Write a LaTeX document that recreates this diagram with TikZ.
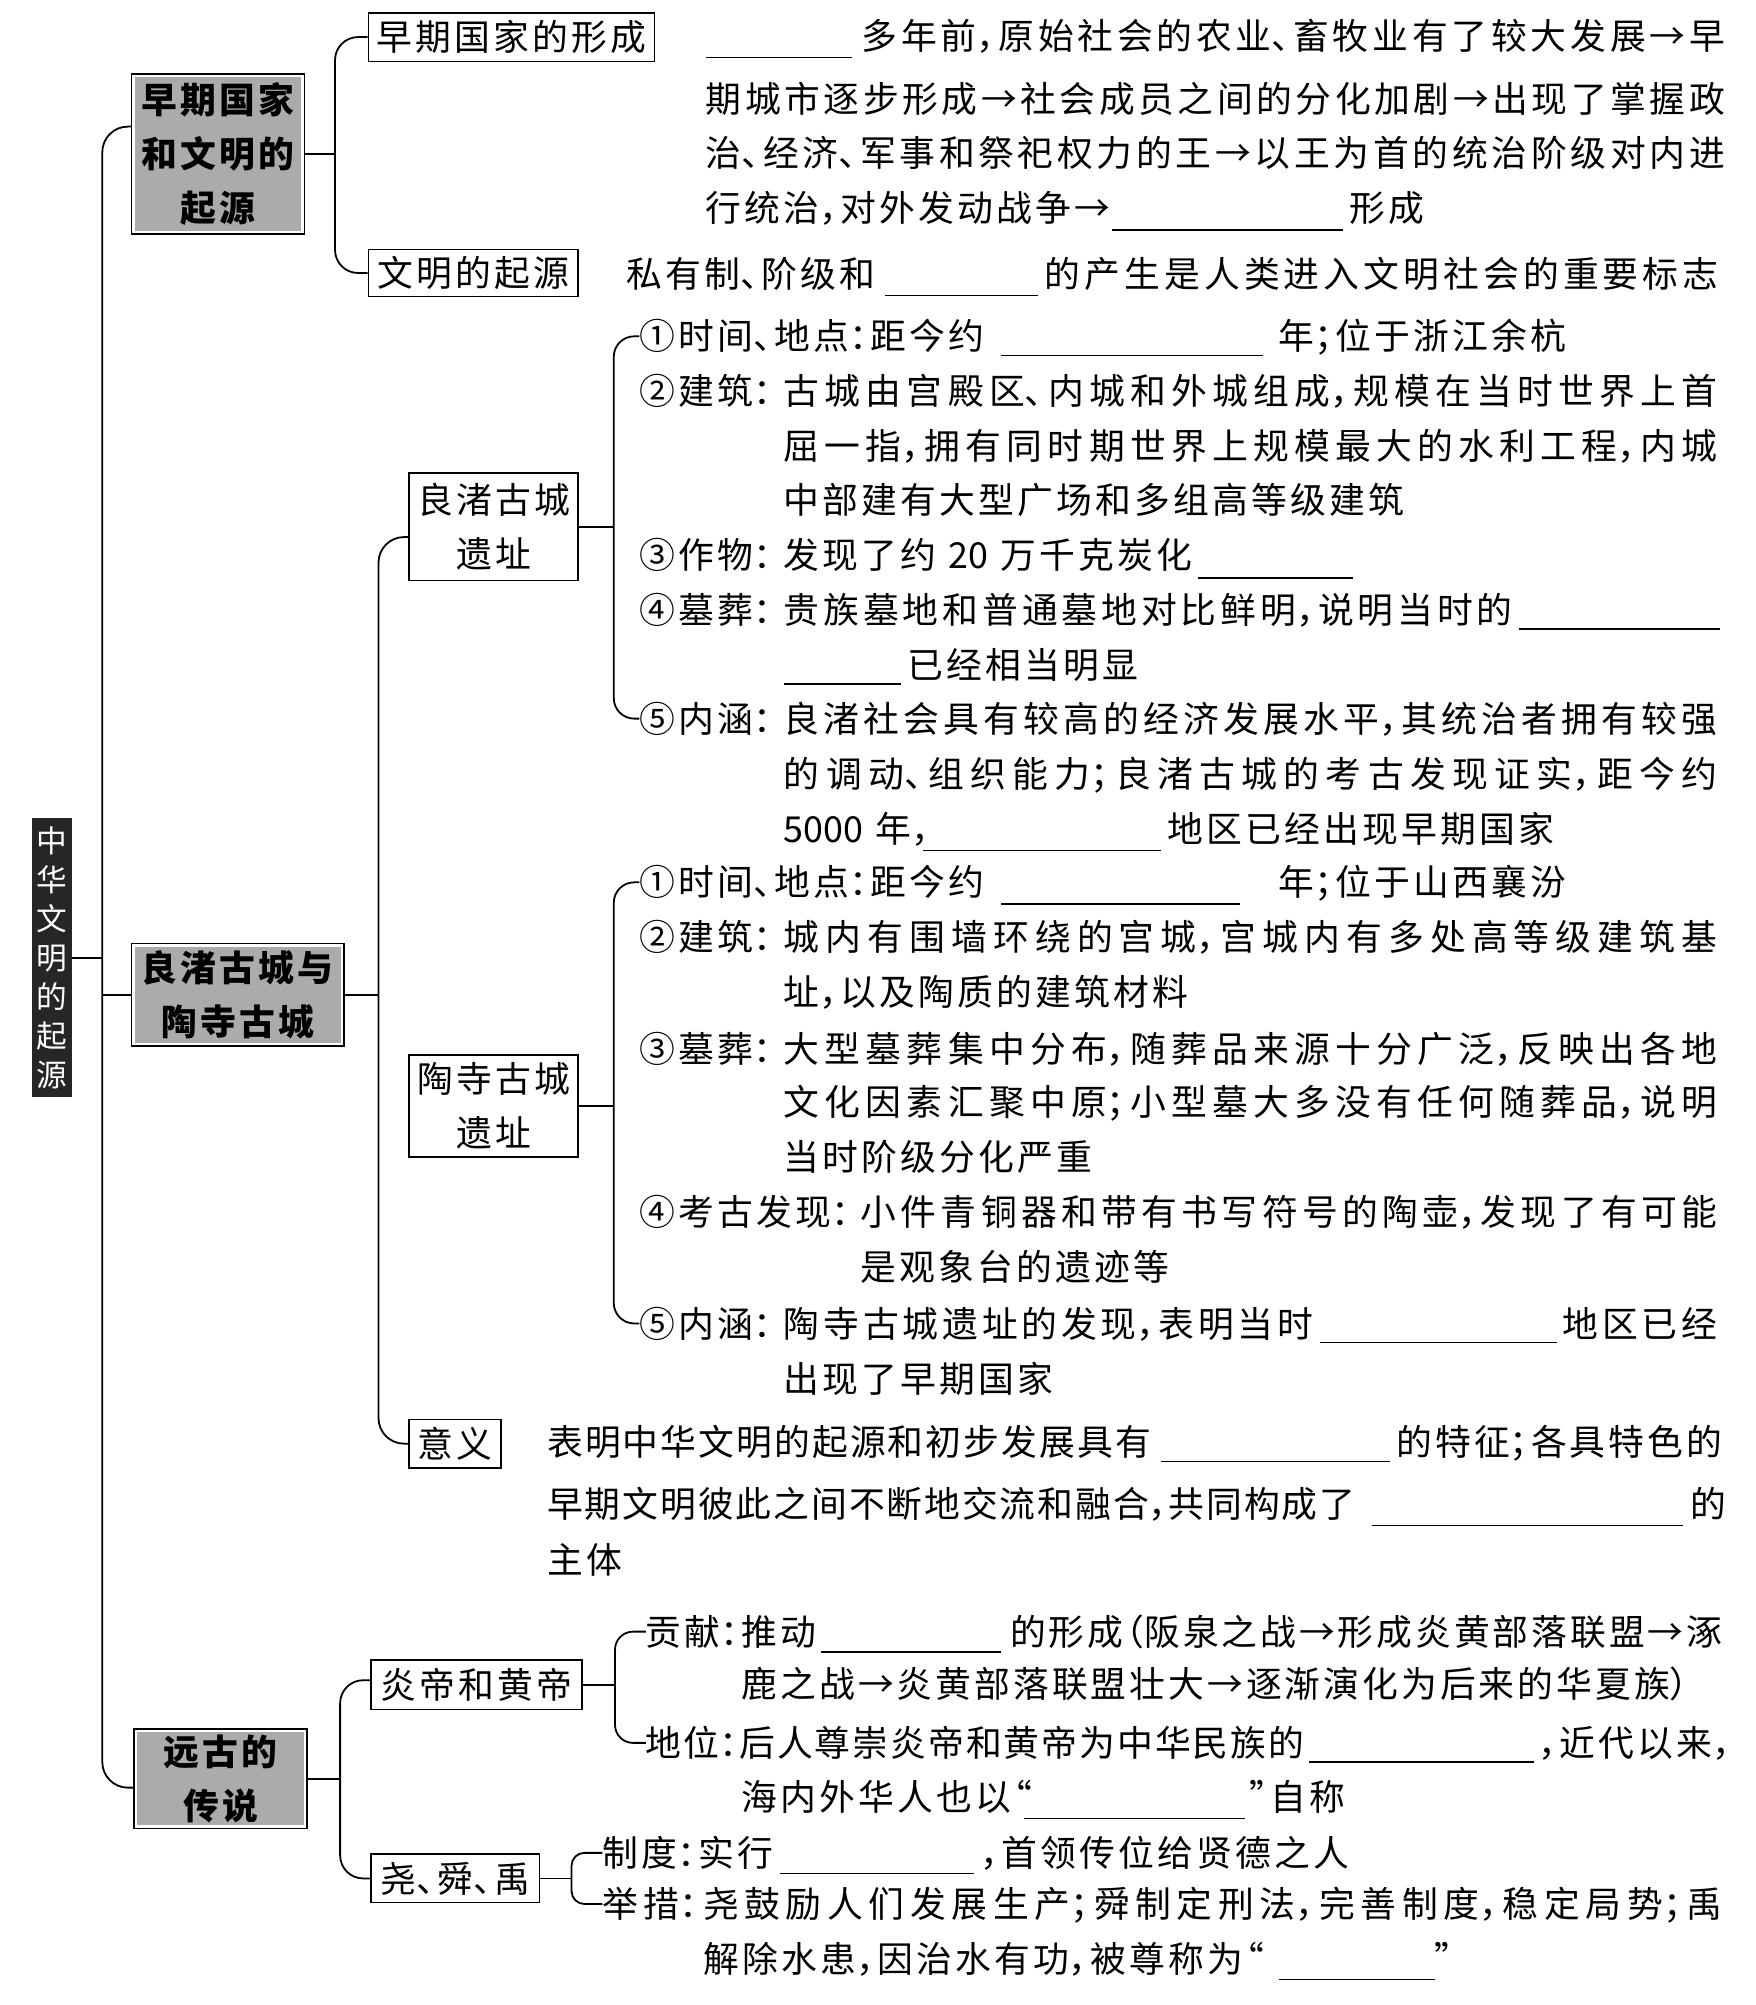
\documentclass[tikz,border=0pt]{standalone}
\usepackage{fontspec}
\newfontfamily\zh{Noto Sans CJK SC}[RawFeature={+halt}]
\XeTeXlinebreaklocale "zh"
\XeTeXlinebreakskip=2.5pt plus 20pt minus 4pt
\newcommand\bodyfont{\zh\fontsize{28pt}{34pt}\selectfont}
\newcommand\boxfont{\zh\fontsize{28pt}{42pt}\selectfont\XeTeXlinebreakskip=2.5pt\relax}
\newcommand\tline[4]{\node[rtx] (#1) at (#2,#3) {#4};}
\newcommand\jline[5]{\node[tx, text width=#4pt] (#1) at (#2,#3) {\tolerance=9999\pretolerance=-1\leftskip=0pt\rightskip=0pt\parfillskip=0pt\relax #5\par};}
\newcommand\bline[3]{\draw[blankline] (#1,#3) -- (#2,#3);}
\tikzset{
 conn/.style={line width=1.4pt},
 blankline/.style={line width=1.1pt},
 tx/.style={anchor=west, inner sep=0pt, outer sep=0pt, font=\bodyfont, text height=24.6pt, text depth=3.4pt},
 rtx/.style={tx, text width=800pt, align=left},
 plainbox/.style={draw, line width=1.2pt, inner sep=0pt, font=\boxfont, align=center},
 graybox/.style={plainbox, font=\boxfont\bfseries, path picture={\fill[black!33] ([shift={(2.5pt,-2.5pt)}]path picture bounding box.north west) rectangle ([shift={(-2.5pt,2.5pt)}]path picture bounding box.south east);}},
 rootbox/.style={fill=black!85, inner sep=0pt, text=white, font=\zh\fontsize{24pt}{30.5pt}\selectfont, align=center},
}
\begin{document}
\begin{tikzpicture}[x=1pt,y=-1pt]
\fill[white] (0,0) rectangle (1373,1568);
\useasboundingbox (0,0) rectangle (1373,1568);

% ---------- boxes ----------
\node[rootbox, minimum width=31pt, minimum height=218pt] (root) at (40.5,749) {中\\华\\文\\明\\的\\起\\源};
\node[graybox, minimum width=135pt, minimum height=125pt, text width=131pt] (b1) at (170.5,120.5) {早期国家\\和文明的\\起源};
\node[graybox, minimum width=166pt, minimum height=80pt, text width=162pt] (b2) at (186,778) {良渚古城与\\陶寺古城};
\node[graybox, minimum width=135pt, minimum height=78pt, text width=131pt] (b3) at (172.5,1391) {远古的\\传说};
\node[plainbox, minimum width=224pt, minimum height=38pt, text width=220pt] (n11) at (400,29) {早期国家的形成};
\node[plainbox, minimum width=164pt, minimum height=37pt, text width=160pt] (n12) at (370,213.5) {文明的起源};
\node[plainbox, minimum width=132pt, minimum height=84pt, text width=128pt] (n21) at (386,412) {良渚古城\\遗址};
\node[plainbox, minimum width=132pt, minimum height=80pt, text width=128pt] (n22) at (386,865) {陶寺古城\\遗址};
\node[plainbox, minimum width=72pt, minimum height=38pt, text width=68pt] (n23) at (356,1129) {意义};
\node[plainbox, minimum width=165pt, minimum height=39pt, text width=161pt] (n31) at (372.5,1317.5) {炎帝和黄帝};
\node[plainbox, minimum width=132pt, minimum height=38pt, text width=128pt] (n32) at (356,1469) {尧、舜、禹};

% ---------- section 1 text ----------
\bline{552}{666}{45}
\jline{a1}{674}{28}{675}{多年前，原始社会的农业、畜牧业有了较大发展→早}
\jline{a2}{552}{77}{797}{期城市逐步形成→社会成员之间的分化加剧→出现了掌握政}
\jline{a3}{552}{120}{797}{治、经济、军事和祭祀权力的王→以王为首的统治阶级对内进}
\tline{a4}{552}{163}{行统治，对外发动战争→}
\bline{870}{1050}{180}
\tline{a5}{1055}{163}{形成}
\tline{a6}{490}{214}{私有制、阶级和}
\bline{692}{812}{231}
\jline{a7}{817}{214}{527}{的产生是人类进入文明社会的重要标志}

% ---------- liangzhu ----------
\tline{l1}{500}{263}{①时间、地点：距今约}
\bline{783}{988}{278}
\tline{l1b}{1000}{263}{年；位于浙江余杭}
\tline{l2}{500}{306}{②建筑：}
\jline{l2a}{613}{306}{730}{古城由宫殿区、内城和外城组成，规模在当时世界上首}
\jline{l2b}{613}{349}{730}{屈一指，拥有同时期世界上规模最大的水利工程，内城}
\tline{l2c}{613}{391}{中部建有大型广场和多组高等级建筑}
\tline{l3}{500}{434}{③作物：}
\tline{l3a}{613}{434}{发现了约 20 万千克炭化}
\bline{937}{1058}{452}
\tline{l4}{500}{477}{④墓葬：}
\jline{l4a}{613}{477}{570}{贵族墓地和普通墓地对比鲜明，说明当时的}
\bline{1188}{1345}{492}
\bline{613}{705}{535}
\tline{l4b}{710}{520}{已经相当明显}
\tline{l5}{500}{562}{⑤内涵：}
\jline{l5a}{613}{562}{730}{良渚社会具有较高的经济发展水平，其统治者拥有较强}
\jline{l5b}{613}{605}{730}{的调动、组织能力；良渚古城的考古发现证实，距今约}
\tline{l5c}{613}{648}{5000 年，}
\bline{722}{908}{665}
\tline{l5d}{913}{648}{地区已经出现早期国家}

% ---------- taosi ----------
\tline{m1}{500}{690}{①时间、地点：距今约}
\bline{783}{970}{707}
\tline{m1b}{1000}{690}{年；位于山西襄汾}
\tline{m2}{500}{733}{②建筑：}
\jline{m2a}{613}{733}{730}{城内有围墙环绕的宫城，宫城内有多处高等级建筑基}
\tline{m2b}{613}{776}{址，以及陶质的建筑材料}
\tline{m3}{500}{820}{③墓葬：}
\jline{m3a}{613}{820}{730}{大型墓葬集中分布，随葬品来源十分广泛，反映出各地}
\jline{m3b}{613}{862}{730}{文化因素汇聚中原；小型墓大多没有任何随葬品，说明}
\tline{m3c}{613}{905}{当时阶级分化严重}
\tline{m4}{500}{948}{④考古发现：}
\jline{m4a}{673}{948}{670}{小件青铜器和带有书写符号的陶壶，发现了有可能}
\tline{m4b}{673}{991}{是观象台的遗迹等}
\tline{m5}{500}{1035}{⑤内涵：}
\jline{m5a}{613}{1035}{414}{陶寺古城遗址的发现，表明当时}
\bline{1032}{1218}{1050}
\jline{m5b}{1222}{1035}{121}{地区已经}
\tline{m5c}{613}{1078}{出现了早期国家}

% ---------- yiyi ----------
\jline{y1}{428}{1128}{472}{表明中华文明的起源和初步发展具有}
\bline{908}{1087}{1143}
\jline{y2}{1092}{1128}{255}{的特征；各具特色的}
\jline{y3}{428}{1176}{632}{早期文明彼此之间不断地交流和融合，共同构成了}
\bline{1073}{1316}{1193}
\tline{y4}{1322}{1176}{的}
\tline{y5}{428}{1220}{主体}

% ---------- yandi huangdi ----------
\tline{g1}{505}{1276}{贡献：推动}
\bline{642}{783}{1292}
\jline{g1b}{790}{1276}{557}{的形成（阪泉之战→形成炎黄部落联盟→涿}
\jline{g1c}{580}{1317}{740}{鹿之战→炎黄部落联盟壮大→逐渐演化为后来的华夏族）}
\jline{g2}{505}{1363}{515}{地位：后人尊崇炎帝和黄帝为中华民族的}
\bline{1024}{1200}{1378}
\tline{g2b}{1203}{1363}{，近代以来，}
\tline{g2c}{580}{1405}{海内外华人也以“}
\bline{801}{974}{1422}
\tline{g2d}{977}{1405}{”自称}

% ---------- yao shun yu ----------
\tline{z1}{471}{1449}{制度：实行}
\bline{610}{762}{1465}
\tline{z1b}{767}{1449}{，首领传位给贤德之人}
\jline{z2}{471}{1489}{876}{举措：尧鼓励人们发展生产；舜制定刑法，完善制度，稳定局势；禹}
\tline{z3}{550}{1532}{解除水患，因治水有功，被尊称为“}
\bline{1000}{1122}{1548}
\tline{z3b}{1122}{1532}{”}

% ---------- connectors ----------
\draw[conn] (root.east) -- (root.east -| 80,0);
\draw[conn, rounded corners=20pt] (b1.west |- 0,99) -- (80,99) -- (80,1398) -- (b3.west |- 0,1398);
\draw[conn] (80,778) -- (b2.west);

\draw[conn] (b1.east) -- (262,120.5);
\draw[conn, rounded corners=18pt] (n11.west) -- (262,29) -- (262,213.5) -- (n12.west);

\draw[conn] (b2.east) -- (296,778);
\draw[conn, rounded corners=20pt] (n21.west |- 0,420) -- (296,420) -- (296,1129) -- (n23.west);

\draw[conn] (n21.east) -- (480,412);
\draw[conn, rounded corners=16pt] (l1.west) -- (480,263) -- (480,562) -- (l5.west);

\draw[conn] (n22.east) -- (480,865);
\draw[conn, rounded corners=16pt] (m1.west) -- (480,690) -- (480,1035) -- (m5.west);

\draw[conn] (b3.east) -- (266,1391);
\draw[conn, rounded corners=18pt] (n31.west |- 0,1314) -- (266,1314) -- (266,1469) -- (n32.west);

\draw[conn] (n31.east) -- (481,1317.5);
\draw[conn, rounded corners=14pt] (g1.west) -- (481,1276) -- (481,1363) -- (g2.west);

\draw[conn] (n32.east) -- (447,1469);
\draw[conn, rounded corners=10pt] (z1.west) -- (447,1449) -- (447,1489) -- (z2.west);
\end{tikzpicture}
\end{document}
